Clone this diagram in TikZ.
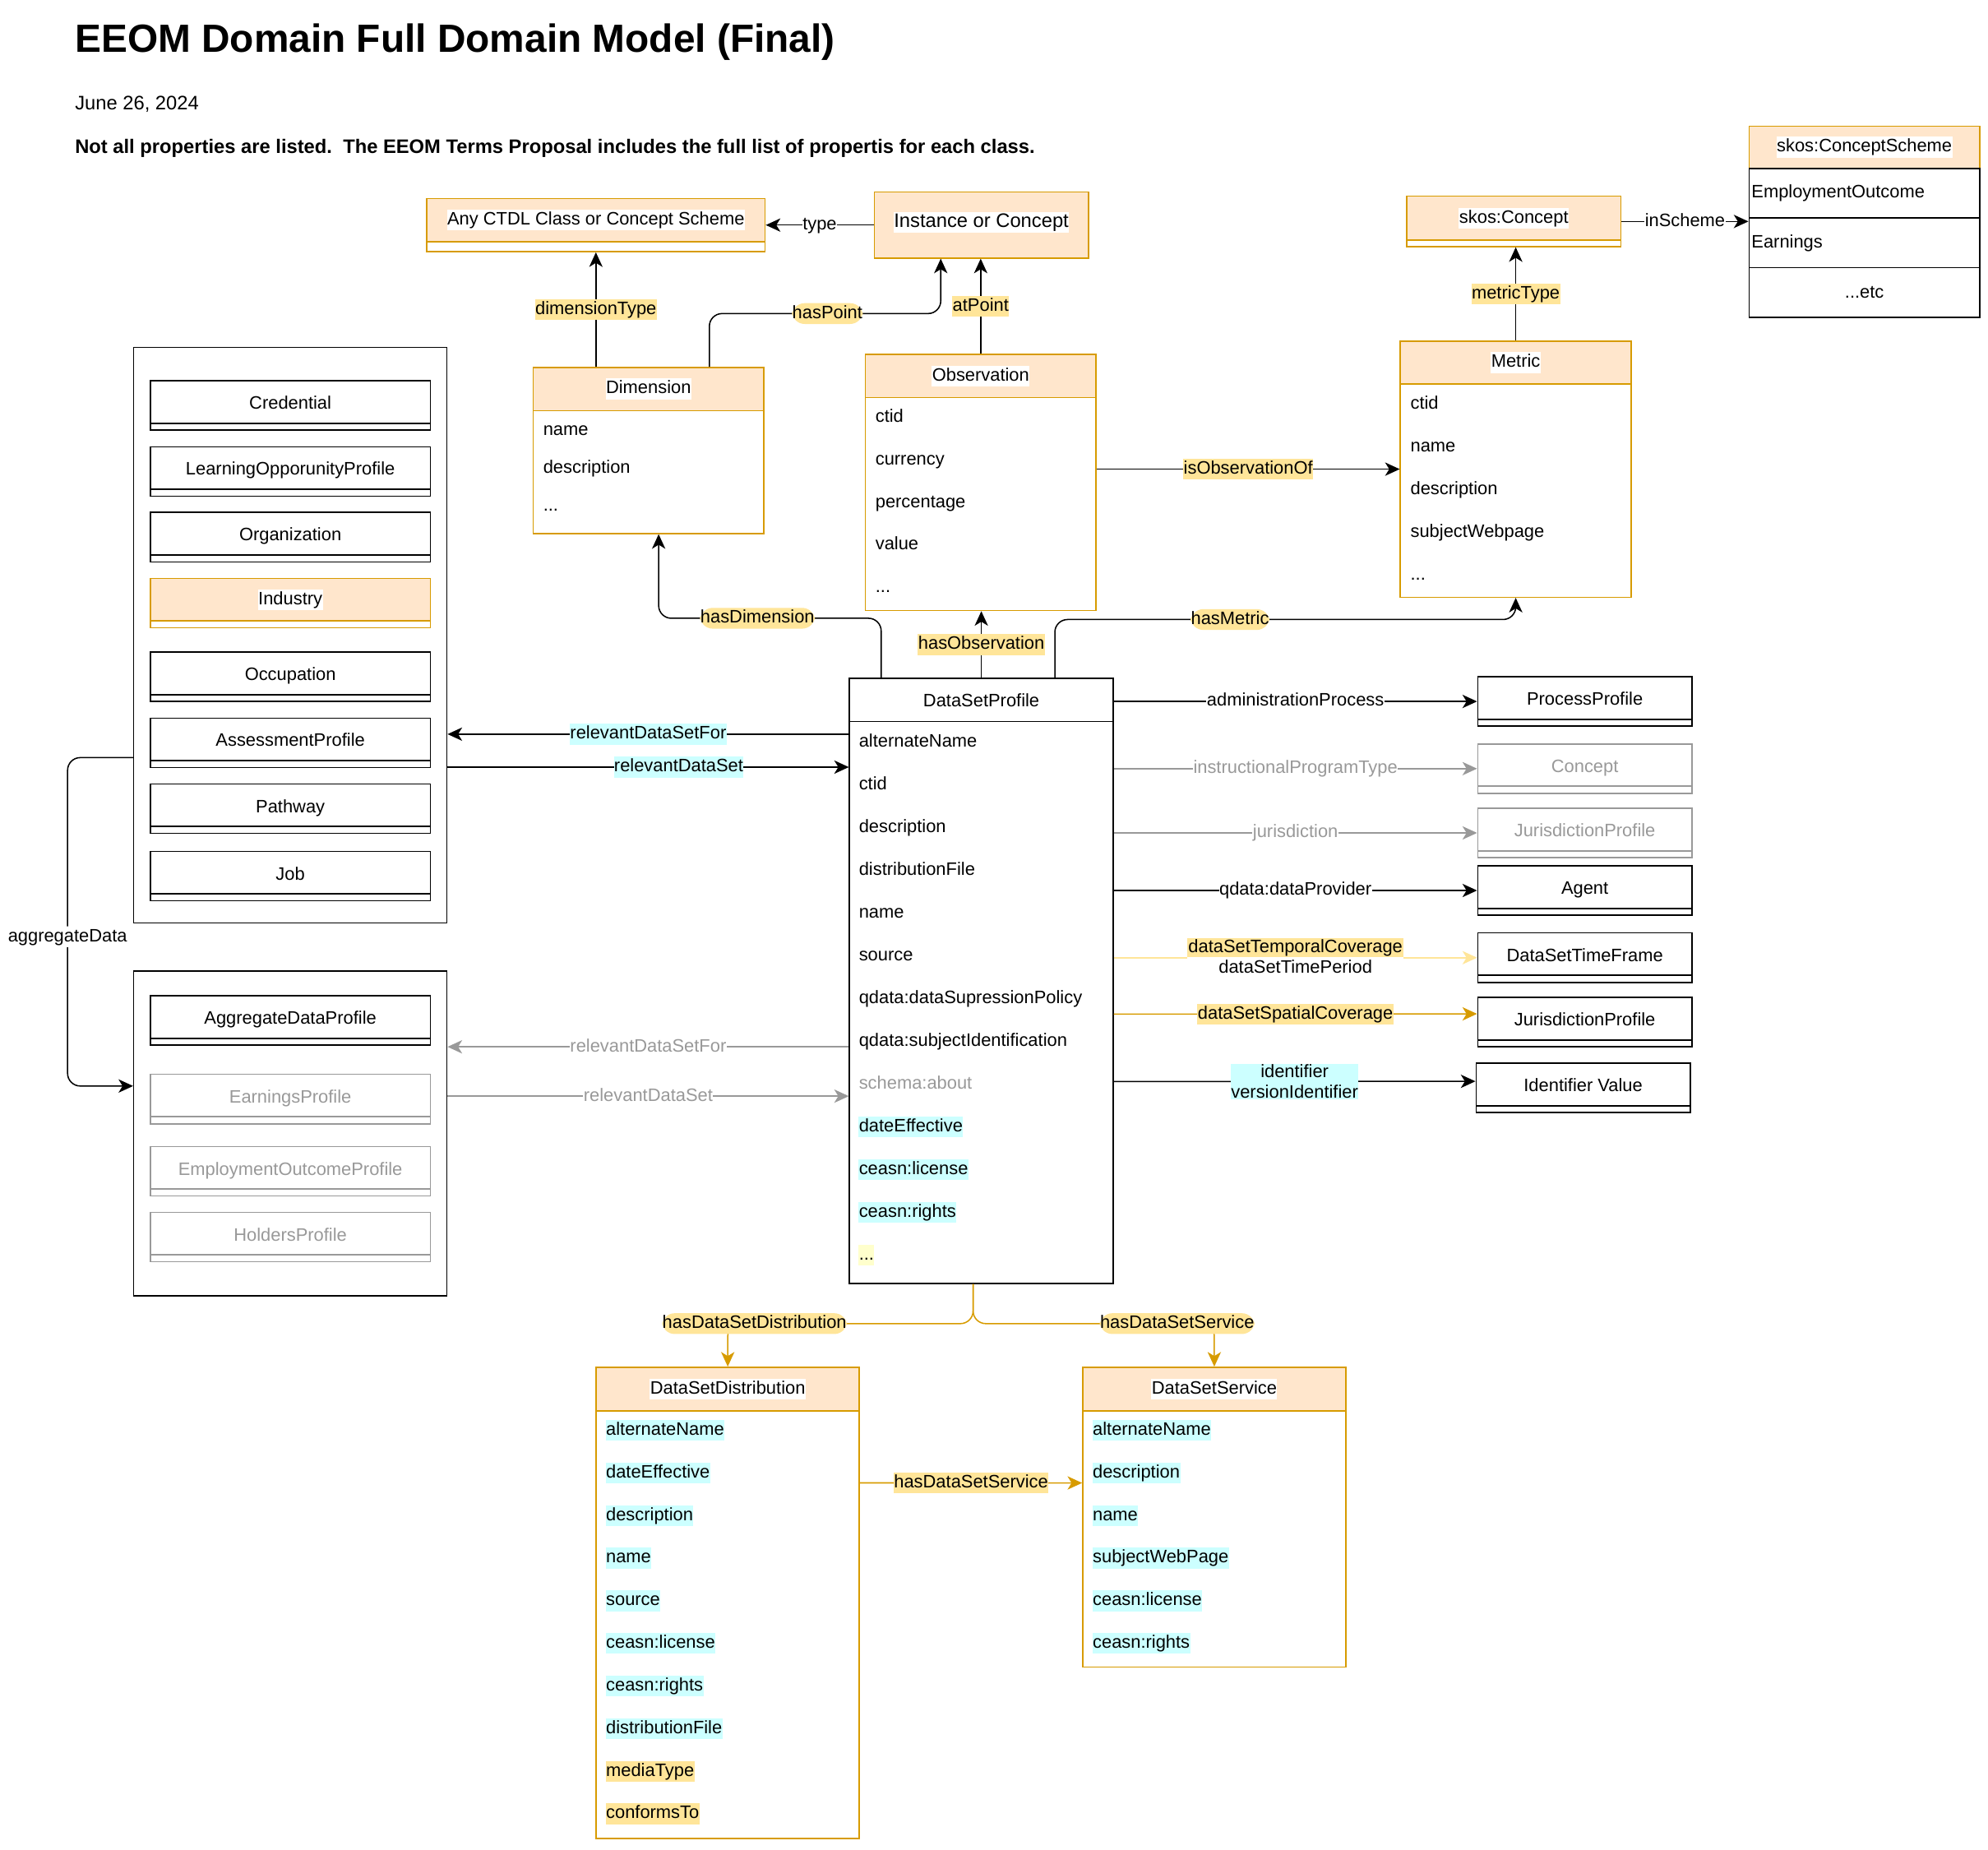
\documentclass[tikz,border=0pt]{standalone}
\usepackage{fontspec}
\setmainfont{Liberation Sans}
\usetikzlibrary{arrows.meta,calc}
\definecolor{peach}{HTML}{FFE6CC}
\definecolor{dorange}{HTML}{D79B00}
\definecolor{cyanbg}{HTML}{CCFFFF}
\definecolor{yelbg}{HTML}{FFE599}
\definecolor{paleyel}{HTML}{FFFFCC}
\definecolor{greyc}{HTML}{999999}
\setlength{\fboxsep}{1pt}
\tikzset{
  every node/.style={font=\fontsize{14.2}{16.7}\selectfont, inner sep=0.5pt},
  txt/.style={text height=10.8pt, text depth=3.2pt, inner xsep=0.3pt, inner ysep=1.2pt},
  row/.style={txt, anchor=west},
  rowc/.style={row, fill=cyanbg},
  rowy/.style={row, fill=yelbg},
  ttl/.style={txt, fill=white},
  lbl/.style={txt, fill=white},
  lbly/.style={txt, fill=yelbg},
  lblc/.style={txt, fill=cyanbg},
  lblg/.style={txt, fill=white, text=greyc},
  cbox/.style={draw=dorange, fill=white, line width=1pt, anchor=north west, inner sep=0pt},
  chead/.style={draw=dorange, fill=peach, line width=1pt, anchor=north west, inner sep=0pt},
  bbox/.style={draw=black, fill=white, line width=1pt, anchor=north west, inner sep=0pt},
  grp/.style={draw=black, line width=1pt, anchor=north west, inner sep=0pt},
  srow/.style={bbox, minimum width=182pt, minimum height=39.2pt, text width=178pt, align=left, inner xsep=2pt},
  strip/.style={draw=#1, text=#1, fill=white, line width=1pt, anchor=north west, inner sep=0.5pt,
    minimum height=39pt, text height=10.8pt, text depth=5pt,
    path picture={\draw[#1, line width=1.3pt] ([yshift=5.5pt]path picture bounding box.south west) -- ([yshift=5.5pt]path picture bounding box.south east);}},
  arr/.style={-{Stealth[length=11.5pt, width=10.5pt, inset=3.2pt]}, line width=1pt},
  garr/.style={arr, draw=greyc},
  oarr/.style={arr, draw=dorange},
  parr/.style={arr, draw=yelbg}
}

\begin{document}
\begin{tikzpicture}[x=1pt, y=-1pt]
  \useasboundingbox (0,0) rectangle (1568,1459);

  \node[anchor=base west, inner sep=0pt, font=\bfseries\fontsize{31}{36}\selectfont] (title) at (59,41) {EEOM Domain Full Domain Model (Final)};
  \node[anchor=base west, inner sep=0pt, font=\fontsize{15.4}{18}\selectfont] (date) at (59,86.5) {June 26, 2024};
  \node[anchor=base west, inner sep=0pt, font=\bfseries\fontsize{15.4}{18}\selectfont] (note) at (59,121) {Not all properties are listed.\ \ The EEOM Terms Proposal includes the full list of propertis for each class.};

  \node[cbox, minimum width=267pt, minimum height=42pt] (any) at (336,156) {};
  \node[chead, minimum width=267pt, minimum height=34pt] (anyH) at (any.north west) {};
  \node[ttl] (anyT) at (anyH) {Any CTDL Class or Concept Scheme};

  \node[chead, minimum width=169pt, minimum height=52pt] (inst) at (689,151) {};
  \node[ttl, font=\fontsize{15.4}{18}\selectfont] (instT) at ([yshift=2pt]inst.center) {Instance or Concept};

  \node[cbox, minimum width=169pt, minimum height=39.7pt] (skc) at (1109,154.3) {};
  \node[chead, minimum width=169pt, minimum height=34.7pt] (skcH) at (skc.north west) {};
  \node[ttl] (skcT) at (skcH) {skos:Concept};

  \node[chead, minimum width=182pt, minimum height=33.3pt] (scsH) at (1379,99) {};
  \node[ttl] (scsT) at (scsH) {skos:ConceptScheme};
  \node[srow] (scs1) at (1379,132.3) {EmploymentOutcome};
  \node[srow] (scs2) at (1379,171.5) {Earnings};
  \node[srow, align=center] (scs3) at (1379,210.7) {...etc};

  \node[cbox, minimum width=182pt, minimum height=131pt] (dim) at (420,289.3) {};
  \node[chead, minimum width=182pt, minimum height=34pt] (dimH) at (dim.north west) {};
  \node[ttl] (dimT) at (dimH) {Dimension};
  \node[row] (dim1) at (428,339.5) {name};
  \node[row] (dim2) at (428,369.5) {description};
  \node[row] (dim3) at (428,399.5) {...};

  \node[cbox, minimum width=182pt, minimum height=202pt] (obs) at (682,279) {};
  \node[chead, minimum width=182pt, minimum height=34pt] (obsH) at (obs.north west) {};
  \node[ttl] (obsT) at (obsH) {Observation};
  \node[row] (obs1) at (690,329) {ctid};
  \node[row] (obs2) at (690,363) {currency};
  \node[row] (obs3) at (690,396.5) {percentage};
  \node[row] (obs4) at (690,430) {value};
  \node[row] (obs5) at (690,463.5) {...};

  \node[cbox, minimum width=182pt, minimum height=202pt] (met) at (1104,268.5) {};
  \node[chead, minimum width=182pt, minimum height=34pt] (metH) at (met.north west) {};
  \node[ttl] (metT) at (metH) {Metric};
  \node[row] (met1) at (1112,319) {ctid};
  \node[row] (met2) at (1112,352.7) {name};
  \node[row] (met3) at (1112,386.3) {description};
  \node[row] (met4) at (1112,420) {subjectWebpage};
  \node[row] (met5) at (1112,453.5) {...};

  \node[grp, minimum width=247pt, minimum height=454pt] (g1) at (105,273.5) {};
  \node[strip=black, minimum width=221pt] (cred) at (118,299.8) {Credential};
  \node[strip=black, minimum width=221pt] (lop) at (118,351.8) {LearningOpporunityProfile};
  \node[strip=black, minimum width=221pt] (org) at (118,403.6) {Organization};
  \node[cbox, minimum width=221pt, minimum height=39pt] (ind) at (118,455.6) {};
  \node[chead, minimum width=221pt, minimum height=33.5pt] (indH) at (ind.north west) {};
  \node[ttl] (indT) at (indH) {Industry};
  \node[strip=black, minimum width=221pt] (occ) at (118,513.7) {Occupation};
  \node[strip=black, minimum width=221pt] (asp) at (118,565.8) {AssessmentProfile};
  \node[strip=black, minimum width=221pt] (pwy) at (118,617.8) {Pathway};
  \node[strip=black, minimum width=221pt] (job) at (118,671) {Job};

  \node[grp, minimum width=247pt, minimum height=256pt] (g2) at (105,765.5) {};
  \node[strip=black, minimum width=221pt] (adp) at (118,784.7) {AggregateDataProfile};
  \node[strip=greyc, minimum width=221pt] (ernp) at (118,846.8) {EarningsProfile};
  \node[strip=greyc, minimum width=221pt] (eop) at (118,903.8) {EmploymentOutcomeProfile};
  \node[strip=greyc, minimum width=221pt] (hold) at (118,955.7) {HoldersProfile};

  \node[bbox, minimum width=208pt, minimum height=477pt] (dsp) at (669.5,534.6) {};
  \node[bbox, minimum width=208pt, minimum height=34pt] (dspH) at (dsp.north west) {DataSetProfile};
  \node[row] (dsp1) at (677,585.3) {alternateName};
  \node[row] (dsp2) at (677,619) {ctid};
  \node[row] (dsp3) at (677,652.7) {description};
  \node[row] (dsp4) at (677,686.4) {distributionFile};
  \node[row] (dsp5) at (677,720.1) {name};
  \node[row] (dsp6) at (677,753.8) {source};
  \node[row] (dsp7) at (677,787.5) {qdata:dataSupressionPolicy};
  \node[row] (dsp8) at (677,821.2) {qdata:subjectIdentification};
  \node[row, text=greyc] (dsp9) at (677,854.9) {schema:about};
  \node[rowc] (dsp10) at (677,888.6) {dateEffective};
  \node[rowc] (dsp11) at (677,922.3) {ceasn:license};
  \node[rowc] (dsp12) at (677,956) {ceasn:rights};
  \node[row, fill=paleyel] (dsp13) at (677,989.7) {...};

  \node[strip=black, minimum width=169pt] (pp) at (1165,533.2) {ProcessProfile};
  \node[strip=greyc, minimum width=169pt] (cpt) at (1165,586.2) {Concept};
  \node[strip=greyc, minimum width=169pt] (jurg) at (1165,636.9) {JurisdictionProfile};
  \node[strip=black, minimum width=169pt] (agt) at (1165,682.3) {Agent};
  \node[strip=black, minimum width=169pt] (dstf) at (1165,735.3) {DataSetTimeFrame};
  \node[strip=black, minimum width=169pt] (jur) at (1165,786) {JurisdictionProfile};
  \node[strip=black, minimum width=169pt] (idv) at (1163.7,838) {Identifier Value};

  \node[cbox, minimum width=207.6pt, minimum height=371.6pt] (dsd) at (469.7,1077.8) {};
  \node[chead, minimum width=207.6pt, minimum height=34.4pt] (dsdH) at (dsd.north west) {};
  \node[ttl] (dsdT) at (dsdH) {DataSetDistribution};
  \node[rowc] (dsd1) at (477.5,1128.1) {alternateName};
  \node[rowc] (dsd2) at (477.5,1161.7) {dateEffective};
  \node[rowc] (dsd3) at (477.5,1195.3) {description};
  \node[rowc] (dsd4) at (477.5,1228.9) {name};
  \node[rowc] (dsd5) at (477.5,1262.5) {source};
  \node[rowc] (dsd6) at (477.5,1296.1) {ceasn:license};
  \node[rowc] (dsd7) at (477.5,1329.7) {ceasn:rights};
  \node[rowc] (dsd8) at (477.5,1363.3) {distributionFile};
  \node[rowy] (dsd9) at (477.5,1396.9) {mediaType};
  \node[rowy] (dsd10) at (477.5,1430.5) {conformsTo};

  \node[cbox, minimum width=207.5pt, minimum height=236.5pt] (dss) at (853.5,1077.8) {};
  \node[chead, minimum width=207.5pt, minimum height=34.4pt] (dssH) at (dss.north west) {};
  \node[ttl] (dssT) at (dssH) {DataSetService};
  \node[rowc] (dss1) at (861.4,1128.1) {alternateName};
  \node[rowc] (dss2) at (861.4,1161.7) {description};
  \node[rowc] (dss3) at (861.4,1195.3) {name};
  \node[rowc] (dss4) at (861.4,1228.9) {subjectWebPage};
  \node[rowc] (dss5) at (861.4,1262.5) {ceasn:license};
  \node[rowc] (dss6) at (861.4,1296.1) {ceasn:rights};

  \draw[arr] (inst.west) -- node[lbl] {type} (any.east);
  \draw[arr] (dim.north -| any.south) -- node[lbly] {dimensionType} (any.south);
  \draw[arr, rounded corners=10pt] ([xshift=48pt]dim.north) -- ++(0,-42) -| node[lbly, pos=0.255] {hasPoint} ([xshift=-32pt]inst.south);
  \draw[arr] (obs.north) -- node[lbly] {atPoint} (obs.north |- inst.south);
  \draw[arr] (met.north) -- node[lbly] {metricType} (met.north |- skc.south);
  \draw[arr] (skc.east) -- node[lbl] {inScheme} (skc.east -| scsH.west);
  \draw[arr] (obs.east |- met.west) -- node[lbly] {isObservationOf} (met.west);

  \draw[arr] (dsp.north) -- node[lbly] {hasObservation} (dsp.north |- obs.south);
  \draw[arr, rounded corners=10pt] ([xshift=-79pt]dsp.north) -- ++(0,-47) -| node[lbly, pos=0.278] {hasDimension} ([xshift=8pt]dim.south);
  \draw[arr, rounded corners=10pt] ([xshift=58pt]dsp.north) -- ++(0,-46) -| node[lbly, pos=0.19] {hasMetric} (met.south);

  \draw[arr] ([yshift=194.6pt]dsp.west) -- node[lblc] {relevantDataSetFor} ([yshift=-78pt]g1.east);
  \draw[arr] ([yshift=-104pt]g1.east) -- node[lblc, pos=0.576] {relevantDataSet} ([yshift=168.6pt]dsp.west);
  \draw[garr] ([yshift=-52pt]dsp.west) -- node[lblg] {relevantDataSetFor} ([yshift=68.4pt]g2.east);
  \draw[garr] ([yshift=29.5pt]g2.east) -- node[lblg] {relevantDataSet} ([yshift=-90.9pt]dsp.west);
  \draw[arr, rounded corners=10pt] ([yshift=-96.5pt]g1.west) -- ++(-51.7,0) |- node[lbl, pos=0.2726] {aggregateData} ([yshift=37.5pt]g2.west);

  \draw[arr] (dsp.east |- pp.west) -- node[lbl] {administrationProcess} (pp.west);
  \draw[garr] (dsp.east |- cpt.west) -- node[lblg] {instructionalProgramType} (cpt.west);
  \draw[garr] (dsp.east |- jurg.west) -- node[lblg] {jurisdiction} (jurg.west);
  \draw[arr] (dsp.east |- agt.west) -- node[lbl] {qdata:dataProvider} (agt.west);
  \draw[parr] (dsp.east |- dstf.west) -- node[fill=white, align=center, inner sep=0pt, yshift=1.5pt] {\colorbox{yelbg}{dataSetTemporalCoverage}\\dataSetTimePeriod} (dstf.west);
  \draw[oarr] ([yshift=-26.2pt]dsp.east) -- node[lbly] {dataSetSpatialCoverage} ([yshift=6.4pt]jur.west);
  \draw[arr] ([yshift=-79.4pt]dsp.east) -- node[fill=cyanbg, align=center, inner sep=0.3pt] {identifier\\versionIdentifier} ([yshift=5.2pt]idv.west);

  \draw[oarr, rounded corners=10pt] ([xshift=-6.5pt]dsp.south) -- ++(0,31.3) -| node[lbly, pos=0.4455] {hasDataSetDistribution} (dsd.north);
  \draw[oarr, rounded corners=10pt] ([xshift=-6.5pt]dsp.south) -- ++(0,31.3) -| node[lbly, pos=0.423] {hasDataSetService} (dss.north);
  \draw[oarr] ([yshift=94.6pt]dsd.east) -- node[lbly] {hasDataSetService} ([yshift=27pt]dss.west);
\end{tikzpicture}
\end{document}
